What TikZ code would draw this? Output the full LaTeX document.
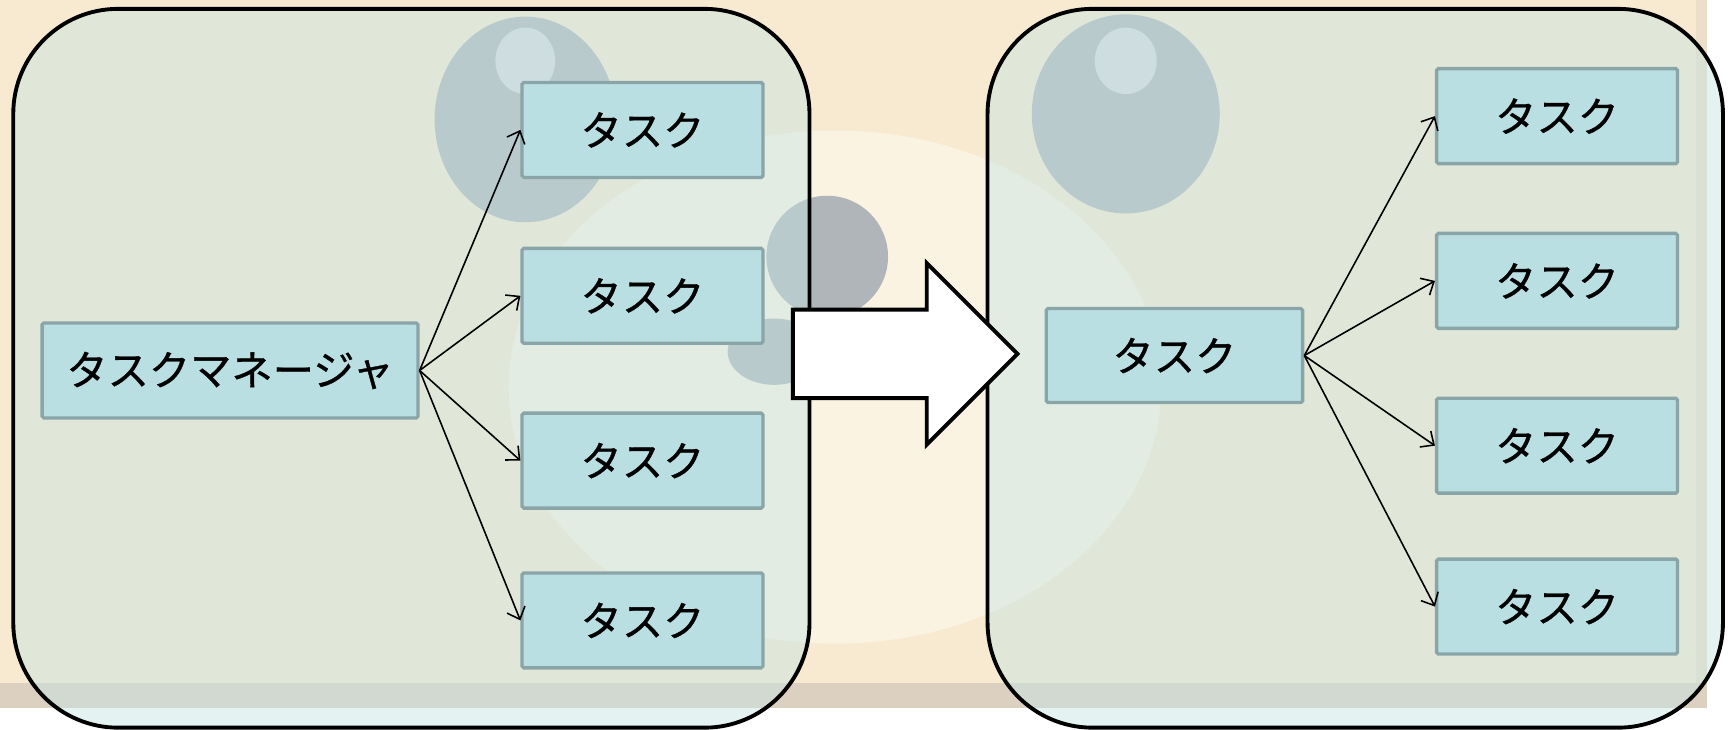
\documentclass[tikz,border=0pt]{standalone}
\usepackage{fontspec}
\setmainfont{Noto Sans CJK JP}
\newfontfamily\jpfont{Noto Sans CJK JP}[FakeBold=0.8]
\usetikzlibrary{arrows.meta}
\definecolor{cream}{RGB}{247,234,209}
\definecolor{creamlight}{RGB}{250,243,226}
\definecolor{tanband}{RGB}{220,208,192}
\definecolor{tanedge}{RGB}{236,222,200}
\definecolor{ballgrey}{RGB}{176,181,186}
\definecolor{ballshine}{RGB}{214,218,222}
\definecolor{panelfill}{RGB}{198,228,228}
\definecolor{taskfill}{RGB}{186,223,226}
\definecolor{taskline}{RGB}{138,165,168}
\tikzset{
  panel/.style={draw=black, line width=2.2pt, rounded corners=2.1cm,
    fill=panelfill, fill opacity=0.45, draw opacity=1},
  taskbox/.style={draw=taskline, fill=taskfill, line width=1.9pt,
    rounded corners=1pt, minimum width=4.82cm, minimum height=1.9cm,
    inner sep=0pt, font=\jpfont\fontsize{23.5}{28}\selectfont, text=black},
  link/.style={-{Straight Barb[length=6pt,width=11pt]}, line width=0.9pt, black},
}
\begin{document}
\begin{tikzpicture}[x=0.02212cm,y=-0.02212cm]
\useasboundingbox (0,0) rectangle (1568,660);
% backdrop
\fill[white] (0,0) rectangle (1568,660);
\fill[cream] (0,0) rectangle (1544,618);
\begin{scope}
  \clip (0,0) rectangle (1544,618);
  \fill[creamlight] (755,350) ellipse [x radius=295, y radius=232];
\end{scope}
\fill[tanedge] (1534,0) rectangle (1544,618);
\fill[tanband] (0,618) rectangle (1544,640);
% decorative balls
\fill[ballgrey] (475,108) ellipse [x radius=82, y radius=93];
\fill[ballshine] (475,55) ellipse [x radius=27, y radius=30];
\fill[ballgrey] (748,232) circle [radius=55];
\fill[ballgrey] (700,318) ellipse [x radius=42, y radius=30];
\fill[ballgrey] (1018,103) ellipse [x radius=85, y radius=90];
\fill[ballshine] (1018,55) ellipse [x radius=28, y radius=30];
% panels
\path[panel] (12,8) rectangle (732,658);
\path[panel] (893,8) rectangle (1558,658);
% left panel: manager and tasks
\node[taskbox, minimum width=7.52cm] (mgr) at (208,335) {タスクマネージャ};
\node[taskbox] (l1) at (581,117.5) {タスク};
\node[taskbox] (l2) at (581,267.5) {タスク};
\node[taskbox] (l3) at (581,416.5) {タスク};
\node[taskbox] (l4) at (581,561) {タスク};
\foreach \t in {l1,l2,l3,l4} \draw[link] (mgr.east) -- (\t.west);
% transition arrow
\draw[fill=white, line width=2.2pt, line join=miter]
  (717,280) -- (838,280) -- (838,238) -- (920,320) -- (838,402) -- (838,360) -- (717,360) -- cycle;
% right panel: task spawning tasks
\node[taskbox, minimum width=5.13cm, minimum height=1.88cm] (c) at (1062,321.5) {タスク};
\node[taskbox] (r1) at (1408,105) {タスク};
\node[taskbox] (r2) at (1408,254) {タスク};
\node[taskbox] (r3) at (1408,403) {タスク};
\node[taskbox] (r4) at (1408,548.5) {タスク};
\foreach \t in {r1,r2,r3,r4} \draw[link] (c.east) -- (\t.west);
\end{tikzpicture}
\end{document}
